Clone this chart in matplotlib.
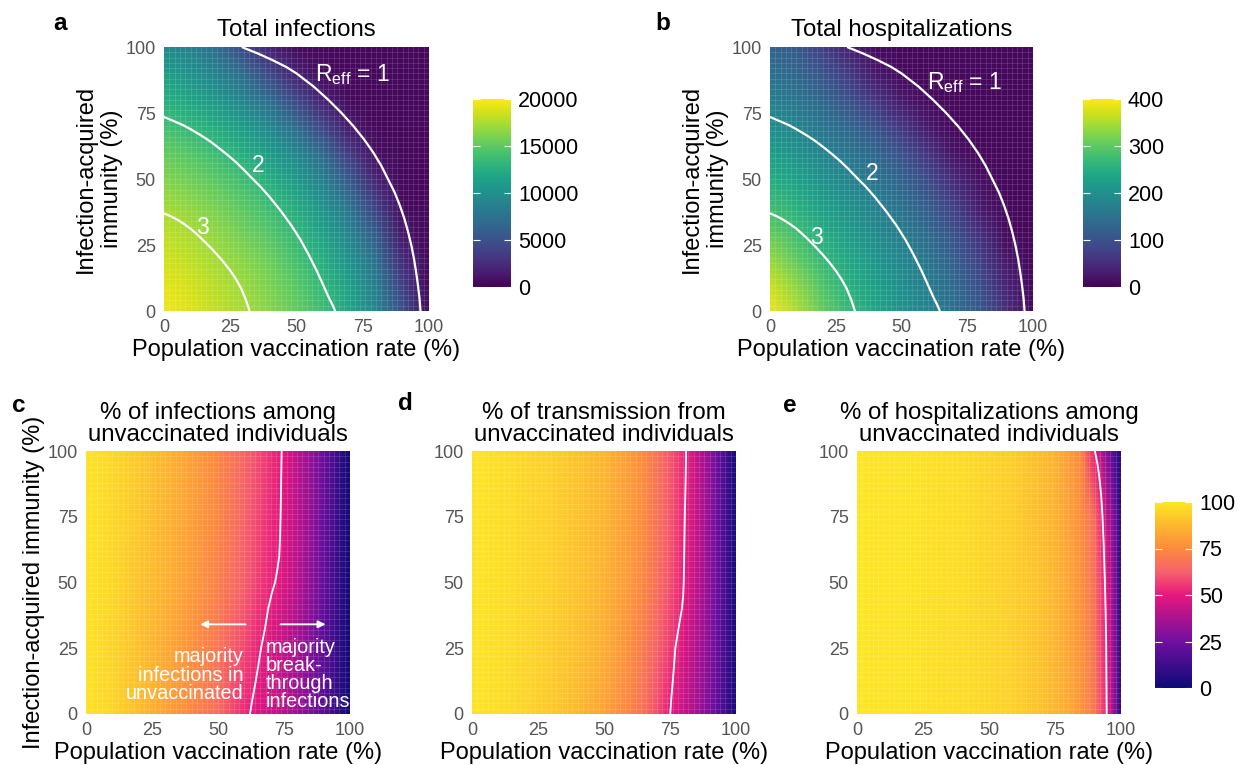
import numpy as np
import matplotlib
matplotlib.use('Agg')
import matplotlib.pyplot as plt
from matplotlib.colors import LinearSegmentedColormap

plt.rcParams['font.family'] = ['Liberation Sans', 'DejaVu Sans']
plt.rcParams['mathtext.fontset'] = 'custom'
plt.rcParams['mathtext.rm'] = 'Liberation Sans'
plt.rcParams['mathtext.it'] = 'Liberation Sans'

# ---------------- data ----------------
# top row grids: x = vaccination rate, y = infection-acquired immunity
grid_x = [0, 10, 20, 30, 40, 50, 60, 70, 80, 90, 100]
grid_y = [0, 10, 20, 30, 40, 50, 60, 70, 80, 90, 100]

total_infections = [
    [19600, 19000, 18200, 17400, 16400, 15200, 13800, 11800, 9200, 5000, 600],
    [19200, 18600, 17800, 17000, 16000, 14800, 13200, 11200, 8400, 3800, 400],
    [18600, 18000, 17200, 16400, 15400, 14000, 12400, 10200, 7200, 2400, 400],
    [18000, 17400, 16600, 15600, 14600, 13200, 11400, 9000, 5600, 1200, 400],
    [17200, 16600, 15800, 14800, 13600, 12200, 10200, 7600, 3800, 600, 400],
    [16200, 15600, 14800, 13800, 12400, 10800, 8600, 5600, 2000, 400, 400],
    [15200, 14600, 13600, 12400, 11000, 9200, 6800, 3400, 800, 400, 400],
    [14000, 13200, 12200, 11000, 9200, 7000, 4200, 1400, 400, 400, 400],
    [12600, 11800, 10600, 9000, 7000, 4400, 1800, 600, 400, 400, 400],
    [11200, 10200, 8800, 7000, 4400, 1800, 600, 400, 400, 400, 400],
    [9600, 8600, 7000, 4400, 1800, 600, 400, 400, 400, 400, 400],
]

total_hosp = [
    [390, 352, 304, 268, 236, 208, 180, 148, 108, 56, 8],
    [368, 330, 288, 254, 224, 196, 168, 136, 96, 40, 8],
    [336, 300, 266, 236, 208, 184, 156, 120, 76, 24, 8],
    [304, 274, 246, 220, 192, 168, 136, 100, 52, 12, 8],
    [276, 252, 224, 200, 176, 148, 116, 76, 28, 8, 8],
    [248, 228, 204, 180, 156, 128, 92, 48, 16, 8, 8],
    [224, 204, 180, 156, 132, 100, 60, 20, 8, 8, 8],
    [196, 180, 156, 132, 100, 64, 28, 8, 8, 8, 8],
    [172, 156, 132, 100, 64, 28, 12, 8, 8, 8, 8],
    [148, 132, 104, 68, 28, 12, 8, 8, 8, 8, 8],
    [128, 112, 76, 36, 12, 8, 8, 8, 8, 8, 8],
]

# R_eff contour lines (same in panels a and b)
reff1_x = [29.3, 35.5, 41, 46, 50, 56.5, 62, 67, 71.5, 75.5, 79, 82, 84.5, 87, 89, 90.7,
           92.1, 93.3, 94.3, 95.1, 95.8, 96.4, 96.8]
reff1_y = [100, 97.5, 95, 92.5, 90, 85, 80, 75, 70, 65, 60, 55, 50, 45, 40, 35,
           30, 25, 20, 15, 10, 5, 0]
reff2_x = [0, 3.5, 7, 10.5, 14, 17.5, 21, 24, 27, 30, 33, 36.5, 40, 44, 48, 51.5,
           54.5, 57.5, 60, 62, 63.5, 64.6]
reff2_y = [73.5, 72, 70.5, 68.6, 66.5, 64.2, 61.5, 59.1, 56.5, 53.6, 50.5, 47, 43, 38, 32.5, 27,
           21.5, 15.5, 10, 5.5, 2.5, 0]
reff3_x = [0, 2.5, 5, 7.5, 10, 12.5, 15, 17.5, 20, 22.5, 25, 27, 29, 30.8, 32.3]
reff3_y = [37, 35.9, 34.6, 33, 31.2, 29, 26.6, 24.1, 21.4, 18.5, 15.3, 12.3, 8.8, 4.5, 0]

# bottom row grids (% unvaccinated)
pct_x = [0, 10, 20, 30, 40, 50, 60, 65, 70, 75, 80, 85, 90, 92.5, 95, 97.5, 100]
pct_y = [0, 25, 50, 75, 100]

pct_infections = [
    [99, 95, 89, 82, 74, 66, 53, 48, 44, 40, 34, 28, 19, 15, 10, 5, 1],
    [99, 95, 90, 84, 77, 69, 58, 52, 47, 42, 36, 29, 20, 16, 11, 6, 1],
    [99, 96, 91, 86, 80, 72, 62, 57, 52, 47, 40, 32, 22, 17, 12, 6, 1],
    [99, 96, 92, 87, 81, 74, 63, 58, 53, 48, 41, 33, 23, 18, 12, 6, 1],
    [99, 96, 92, 87, 81, 74, 64, 59, 54, 49, 41, 33, 23, 18, 12, 6, 1],
]
pct_transmission = [
    [99, 98, 95, 92, 88, 82, 73, 67, 59, 50, 43, 36, 27, 22, 16, 9, 3],
    [99, 98, 96, 93, 90, 85, 76, 70, 63, 56, 47, 39, 30, 24, 17, 10, 3],
    [99, 98, 96, 94, 91, 86, 79, 74, 67, 60, 51, 42, 31, 25, 18, 10, 3],
    [99, 98, 96, 94, 91, 87, 80, 75, 68, 61, 52, 43, 32, 25, 18, 10, 3],
    [99, 98, 96, 94, 91, 87, 80, 75, 68, 61, 53, 43, 32, 25, 18, 10, 3],
]
pct_hosp = [
    [100, 99, 99, 98, 97, 96, 94, 92, 90, 87, 84, 78, 69, 59, 49, 32, 5],
    [100, 99, 99, 98, 97, 96, 94, 92, 90, 87, 83, 78, 68, 58, 48, 31, 5],
    [100, 99, 99, 98, 97, 95, 93, 92, 90, 87, 83, 77, 67, 57, 47, 30, 5],
    [100, 99, 99, 98, 97, 95, 93, 91, 89, 86, 82, 76, 66, 53, 40, 27, 5],
    [100, 99, 99, 98, 97, 95, 93, 91, 89, 86, 81, 74, 51, 40, 28, 16, 4],
]

# 50% contour lines
c50_x = [62.1, 63.1, 64.2, 65.2, 66.3, 67.7, 69.0, 70.4, 71.6, 72.5, 73.2, 73.5, 73.7, 73.9, 74.1]
c50_y = [0, 6, 12, 18, 25, 32, 40, 46, 50, 55, 60, 67, 75, 87, 100]
d50_x = [75.1, 75.5, 76.0, 76.5, 77.0, 78.3, 79.5, 80.0, 80.2, 80.4, 80.6, 80.9, 81.1]
d50_y = [0, 6, 12, 18, 25, 33, 40, 45, 50, 62, 75, 88, 100]
e50_x = [94.6, 94.5, 94.4, 94.2, 93.9, 93.5, 93.0, 92.5, 91.8, 91.1, 90.1]
e50_y = [0, 12, 25, 38, 50, 63, 75, 83, 90, 95, 100]

# ---------------- figure ----------------
W, H = 1239, 765
fig = plt.figure(figsize=(W / 100, H / 100), dpi=100)


def px_axes(l, t, r, b):
    return fig.add_axes([l / W, 1 - b / H, (r - l) / W, (b - t) / H])


pct_cmap = LinearSegmentedColormap.from_list(
    'pct', [(0, '#0d0b78'), (0.25, '#700fa0'), (0.5, '#e8177e'), (0.62, '#f5606d'),
            (0.75, '#fd8a3e'), (0.88, '#fdb92e'), (1.0, '#fde725')])

tick_col = '#555555'
lab_fs = 17
title_fs = 17.3


def style_ax(ax, ylabel=None):
    ax.set_xlim(0, 100)
    ax.set_ylim(0, 100)
    for s in ax.spines.values():
        s.set_visible(False)
    ax.set_xticks([0, 25, 50, 75, 100])
    ax.set_yticks([0, 25, 50, 75, 100])
    ax.tick_params(length=0, pad=6, labelsize=13, labelcolor=tick_col)
    ax.set_xlabel('Population vaccination rate (%)', fontsize=lab_fs, labelpad=2)
    if ylabel:
        ax.set_ylabel(ylabel, fontsize=lab_fs, labelpad=2)
    # faint tile borders
    for g in np.arange(2, 100, 2):
        ax.axvline(g, color='white', lw=0.5, alpha=0.17, zorder=2)
        ax.axhline(g, color='white', lw=0.5, alpha=0.17, zorder=2)


def heat(ax, xs, ys, z, cmap, vmax):
    X, Y = np.meshgrid(xs, ys)
    return ax.pcolormesh(X, Y, np.array(z, dtype=float), shading='gouraud',
                         cmap=cmap, vmin=0, vmax=vmax, zorder=1)


def cbar(mappable, l, t, r, b, ticks):
    cax = px_axes(l, t, r, b)
    cb = fig.colorbar(mappable, cax=cax, ticks=ticks)
    cb.outline.set_visible(False)
    cax.tick_params(axis='y', direction='in', length=5, width=0.8, color='white',
                    left=True, right=True, labelsize=15.5, labelcolor='black', pad=5)
    return cb


# panel a
ax_a = px_axes(164, 47, 429, 311)
m_a = heat(ax_a, grid_x, grid_y, total_infections, 'viridis', 20000)
style_ax(ax_a, 'Infection-acquired\nimmunity (%)')
ax_a.set_title('Total infections', fontsize=title_fs, pad=8)
for xs, ys in [(reff1_x, reff1_y), (reff2_x, reff2_y), (reff3_x, reff3_y)]:
    ax_a.plot(xs, ys, color='white', lw=1.6, zorder=3, solid_capstyle='butt')
ax_a.text(71, 89.5, r'R$_{\mathregular{eff}}$ = 1', color='white', fontsize=16.5, ha='center', va='center', zorder=4)
ax_a.text(35.6, 55, '2', color='white', fontsize=16.5, ha='center', va='center', zorder=4)
ax_a.text(14.4, 31.5, '3', color='white', fontsize=16.5, ha='center', va='center', zorder=4)
cbar(m_a, 473, 99, 511, 287, [0, 5000, 10000, 15000, 20000])

# panel b
ax_b = px_axes(770, 47, 1033, 311)
m_b = heat(ax_b, grid_x, grid_y, total_hosp, 'viridis', 400)
style_ax(ax_b, 'Infection-acquired\nimmunity (%)')
ax_b.set_title('Total hospitalizations', fontsize=title_fs, pad=8)
for xs, ys in [(reff1_x, reff1_y), (reff2_x, reff2_y), (reff3_x, reff3_y)]:
    ax_b.plot(xs, ys, color='white', lw=1.6, zorder=3, solid_capstyle='butt')
ax_b.text(74, 86.5, r'R$_{\mathregular{eff}}$ = 1', color='white', fontsize=16.5, ha='center', va='center', zorder=4)
ax_b.text(39, 52, '2', color='white', fontsize=16.5, ha='center', va='center', zorder=4)
ax_b.text(17.7, 28, '3', color='white', fontsize=16.5, ha='center', va='center', zorder=4)
cbar(m_b, 1083, 99, 1121, 287, [0, 100, 200, 300, 400])

# panel c
ax_c = px_axes(86, 451, 350, 714)
heat(ax_c, pct_x, pct_y, pct_infections, pct_cmap, 100)
style_ax(ax_c, 'Infection-acquired immunity (%)')
ax_c.set_title('% of infections among\nunvaccinated individuals', fontsize=title_fs, pad=7, linespacing=1.0)
ax_c.plot(c50_x, c50_y, color='white', lw=1.3, zorder=3)
ax_c.annotate('', xy=(42.2, 34.1), xytext=(61.5, 34.1),
              arrowprops=dict(arrowstyle='-|>', color='white', lw=1.3, mutation_scale=11), zorder=4)
ax_c.annotate('', xy=(91.8, 34.1), xytext=(72.6, 34.1),
              arrowprops=dict(arrowstyle='-|>', color='white', lw=1.3, mutation_scale=11), zorder=4)
ax_c.text(59.8, 14.8, 'majority\ninfections in\nunvaccinated', color='white', fontsize=14.3,
          ha='right', va='center', linespacing=0.95, zorder=4)
ax_c.text(68.1, 15.0, 'majority\nbreak-\nthrough\ninfections', color='white', fontsize=14.3,
          ha='left', va='center', linespacing=0.95, zorder=4)

# panel d
ax_d = px_axes(472, 451, 736, 714)
heat(ax_d, pct_x, pct_y, pct_transmission, pct_cmap, 100)
style_ax(ax_d)
ax_d.set_title('% of transmission from\nunvaccinated individuals', fontsize=title_fs, pad=7, linespacing=1.0)
ax_d.plot(d50_x, d50_y, color='white', lw=1.3, zorder=3)

# panel e
ax_e = px_axes(857, 451, 1121, 714)
m_e = heat(ax_e, pct_x, pct_y, pct_hosp, pct_cmap, 100)
style_ax(ax_e)
ax_e.set_title('% of hospitalizations among\nunvaccinated individuals', fontsize=title_fs, pad=7, linespacing=1.0)
ax_e.plot(e50_x, e50_y, color='white', lw=1.3, zorder=3)
cbar(m_e, 1155, 502, 1192, 688, [0, 25, 50, 75, 100])

# panel letters
for lab, (x, y) in zip('abcde', [(60, 24), (663, 24), (19, 405), (405, 404), (790, 406)]):
    fig.text(x / W, 1 - y / H, lab, fontsize=17.5, fontweight='bold', ha='center', va='center')

plt.savefig('out.png', dpi=100, facecolor='white')
